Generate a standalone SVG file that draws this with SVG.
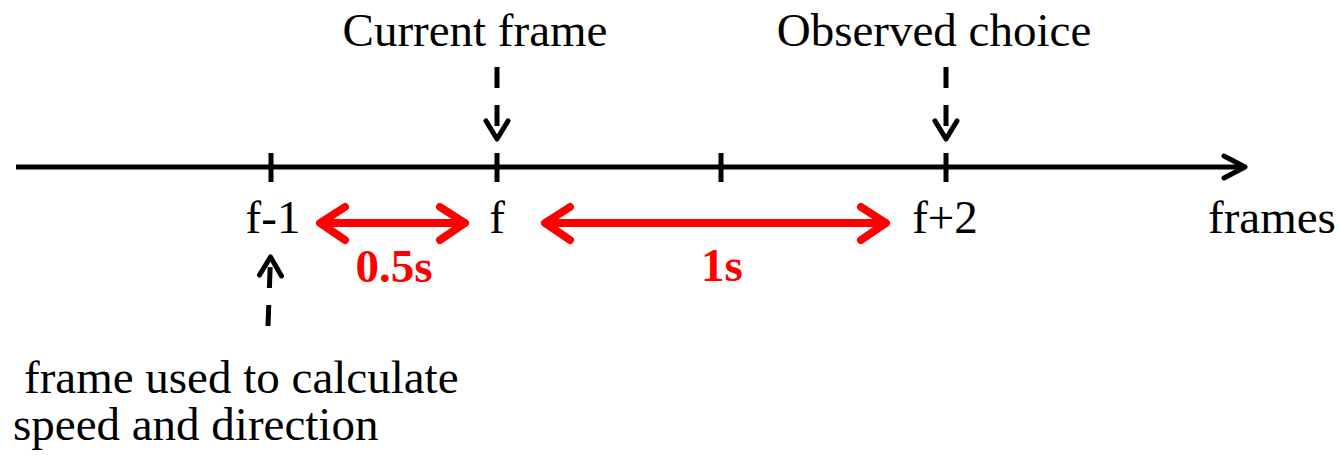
<svg xmlns="http://www.w3.org/2000/svg" width="1339" height="456" viewBox="0 0 1339 456">
<style>
.t{font-family:'Liberation Serif','DejaVu Serif',serif;font-size:47px;fill:#000}
.red{fill:#ff0000;font-weight:bold}
.axis{stroke:#000;stroke-width:5;fill:none}
.dash{stroke:#000;stroke-width:5;fill:none;stroke-dasharray:21 17}
.head{stroke:#000;stroke-width:5;fill:none;stroke-linecap:round;stroke-linejoin:round}
.rd{stroke:#ff0000;stroke-width:8;fill:none;stroke-linecap:round;stroke-linejoin:round}
</style>
<rect width="1339" height="456" fill="#fff"/>
<g id="connectors">
  <g id="axis">
    <line class="axis" x1="16" y1="167" x2="1244" y2="167"/>
    <polyline class="head" points="1224,156 1245,167 1224,178"/>
    <line class="axis" x1="271" y1="153" x2="271" y2="182"/>
    <line class="axis" x1="497" y1="153" x2="497" y2="182"/>
    <line class="axis" x1="721" y1="153" x2="721" y2="182"/>
    <line class="axis" x1="946" y1="153" x2="946" y2="182"/>
  </g>
  <g id="arrow-current">
    <line class="dash" x1="497" y1="67" x2="497" y2="138"/>
    <polyline class="head" points="486,121 497,139 508,121"/>
  </g>
  <g id="arrow-observed">
    <line class="dash" x1="946" y1="67" x2="946" y2="138"/>
    <polyline class="head" points="935,121 946,139 957,121"/>
  </g>
  <g id="arrow-f-1">
    <line class="dash" x1="268" y1="326" x2="270.5" y2="258" stroke-dasharray="18 17"/>
    <polyline class="head" points="259.5,275 270.5,257 281.5,276"/>
  </g>
  <g id="span-05">
    <line class="rd" x1="321" y1="223" x2="464" y2="223"/>
    <polyline class="rd" points="345,207 320,223 345,240"/>
    <polyline class="rd" points="440,207 465,223 440,240"/>
  </g>
  <g id="span-1">
    <line class="rd" x1="546" y1="223" x2="885" y2="223"/>
    <polyline class="rd" points="570,207 545,223 570,240"/>
    <polyline class="rd" points="861,207 886,223 861,240"/>
  </g>
</g>
<g id="label-current"><text class="t" font-family="Liberation Serif, serif" x="475" y="46" text-anchor="middle">Current frame</text></g>
<g id="label-observed"><text class="t" font-family="Liberation Serif, serif" x="934" y="46" text-anchor="middle">Observed choice</text></g>
<g id="label-f-1"><text class="t" font-family="Liberation Serif, serif" x="273" y="233" text-anchor="middle">f-1</text></g>
<g id="label-f"><text class="t" font-family="Liberation Serif, serif" x="497" y="233" text-anchor="middle">f</text></g>
<g id="label-f2"><text class="t" font-family="Liberation Serif, serif" x="945" y="233" text-anchor="middle">f+2</text></g>
<g id="label-frames"><text class="t" font-family="Liberation Serif, serif" x="1208" y="233">frames</text></g>
<g id="label-05"><text class="t red" font-family="Liberation Serif, serif" x="394" y="282" text-anchor="middle">0.5s</text></g>
<g id="label-1s"><text class="t red" font-family="Liberation Serif, serif" x="722" y="281" text-anchor="middle">1s</text></g>
<g id="label-used">
  <text class="t" font-family="Liberation Serif, serif" x="24" y="393">frame used to calculate</text>
  <text class="t" font-family="Liberation Serif, serif" x="13" y="440">speed and direction</text>
</g>
</svg>
